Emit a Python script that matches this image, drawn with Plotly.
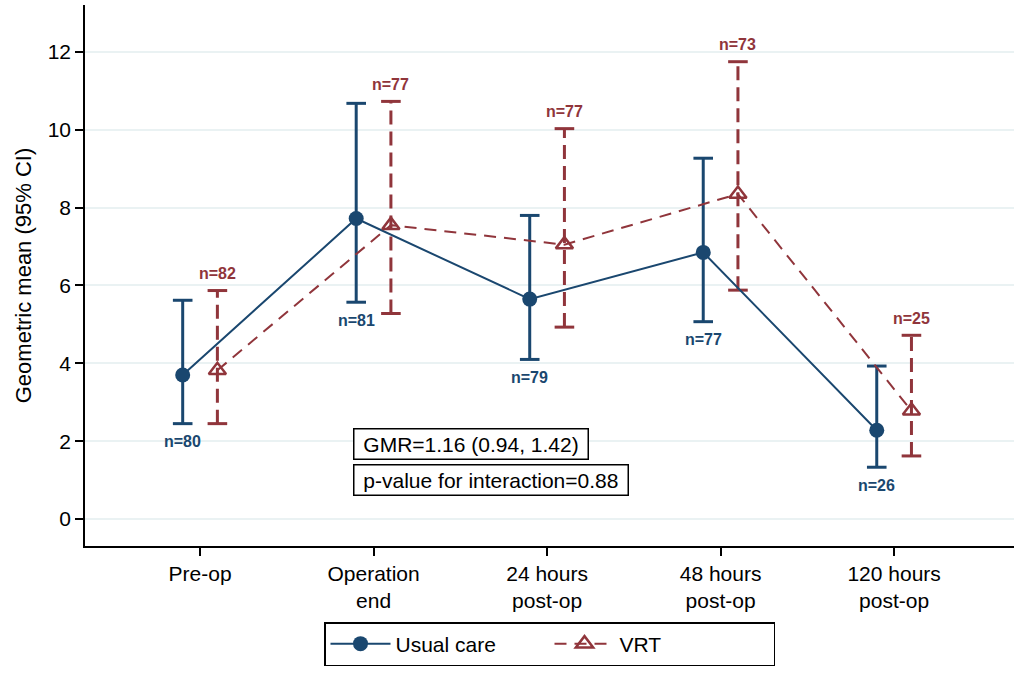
import plotly.graph_objects as go

categories = ["Pre-op", "Operation<br>end", "24 hours<br>post-op", "48 hours<br>post-op", "120 hours<br>post-op"]
cat_pos = [1, 2, 3, 4, 5]

usual_mean = [3.70, 7.72, 5.65, 6.85, 2.28]
usual_lo = [2.45, 5.57, 4.10, 5.07, 1.33]
usual_hi = [5.62, 10.68, 7.80, 9.27, 3.93]
usual_n = [80, 81, 79, 77, 26]

vrt_mean = [3.82, 7.55, 7.05, 8.35, 2.78]
vrt_lo = [2.45, 5.28, 4.93, 5.88, 1.62]
vrt_hi = [5.87, 10.73, 10.03, 11.75, 4.72]
vrt_n = [82, 77, 77, 73, 25]

ytick_vals = [0, 2, 4, 6, 8, 10, 12]

NAVY = "#1a476f"
MAROON = "#90353b"
FONT = "Liberation Sans, Arial, sans-serif"
NB = "\u00a0"

off = 0.1
ux = [p - off for p in cat_pos]
vx = [p + off for p in cat_pos]

fig = go.Figure()


def ci_traces(xs, lo, hi, color, dash):
    segx, segy = [], []
    for x, a, b in zip(xs, lo, hi):
        segx += [x, x, None]
        segy += [a, b, None]
    fig.add_trace(go.Scatter(x=segx, y=segy, mode="lines",
                             line=dict(color=color, width=3, dash=dash),
                             showlegend=False, hoverinfo="skip"))
    fig.add_trace(go.Scatter(x=list(xs) + list(xs), y=list(lo) + list(hi), mode="markers",
                             marker=dict(symbol="line-ew", size=14,
                                         line=dict(color=color, width=3)),
                             showlegend=False, hoverinfo="skip"))


ci_traces(ux, usual_lo, usual_hi, NAVY, "solid")
ci_traces(vx, vrt_lo, vrt_hi, MAROON, "14px,7px")

fig.add_trace(go.Scatter(x=ux, y=usual_mean, mode="lines+markers", name="Usual care",
                         line=dict(color=NAVY, width=2),
                         marker=dict(symbol="circle", size=15, color=NAVY)))
fig.add_trace(go.Scatter(x=vx, y=vrt_mean, mode="lines+markers", name="VRT",
                         line=dict(color=MAROON, width=2, dash="12px,8px"),
                         marker=dict(symbol="triangle-up-open", size=15, color=MAROON,
                                     line=dict(color=MAROON, width=2.5))))

annotations = []
for x, lo, n in zip(ux, usual_lo, usual_n):
    annotations.append(dict(x=x, y=lo, xref="x", yref="y", text="<b>n=%d</b>" % n,
                            showarrow=False, yshift=-18, yanchor="middle",
                            font=dict(family=FONT, size=16, color=NAVY)))
for x, hi, n in zip(vx, vrt_hi, vrt_n):
    annotations.append(dict(x=x, y=hi, xref="x", yref="y", text="<b>n=%d</b>" % n,
                            showarrow=False, yshift=17, yanchor="middle",
                            font=dict(family=FONT, size=16, color=MAROON)))

annotations.append(dict(x=0.2885, y=0.1885, xref="paper", yref="paper",
                        text=NB + "GMR=1.16 (0.94, 1.42)" + NB, showarrow=False,
                        xanchor="left", yanchor="middle", bordercolor="black",
                        borderwidth=1.5, borderpad=3, bgcolor="white",
                        font=dict(family=FONT, size=21, color="black")))
annotations.append(dict(x=0.2885, y=0.122, xref="paper", yref="paper",
                        text=NB + "p-value for interaction=0.88" + NB, showarrow=False,
                        xanchor="left", yanchor="middle", bordercolor="black",
                        borderwidth=1.5, borderpad=3, bgcolor="white",
                        font=dict(family=FONT, size=21, color="black")))

fig.update_layout(
    width=1014, height=674,
    margin=dict(l=85, r=0, t=5, b=128),
    paper_bgcolor="white", plot_bgcolor="white",
    font=dict(family=FONT, size=21, color="black"),
    annotations=annotations,
    showlegend=True,
    legend=dict(orientation="h", x=0.5, xanchor="center", y=-0.1405, yanchor="top",
                bordercolor="black", borderwidth=1.5, bgcolor="white",
                font=dict(family=FONT, size=21, color="black"),
                entrywidth=149, itemwidth=60),
)
fig.update_xaxes(range=[0.337, 5.691], tickvals=cat_pos, ticktext=categories,
                 showgrid=False, zeroline=False, showline=True, linecolor="black",
                 linewidth=1.5, ticks="outside", ticklen=8, tickwidth=1.5,
                 tickcolor="black", tickfont=dict(family=FONT, size=21))
fig.update_yaxes(range=[-0.694, 13.207], tickvals=ytick_vals, automargin=False,
                 showgrid=True, gridcolor="#eaf2f3", gridwidth=1.5, zeroline=False,
                 showline=True, linecolor="black", linewidth=1.5, ticks="outside",
                 ticklen=8, tickwidth=1.5, tickcolor="black",
                 tickfont=dict(family=FONT, size=21),
                 title=dict(text="Geometric mean (95% CI)", font=dict(family=FONT, size=22),
                            standoff=10))

fig.write_html("out.html", config={"displayModeBar": False},
               post_script="document.body.style.margin='0';")
